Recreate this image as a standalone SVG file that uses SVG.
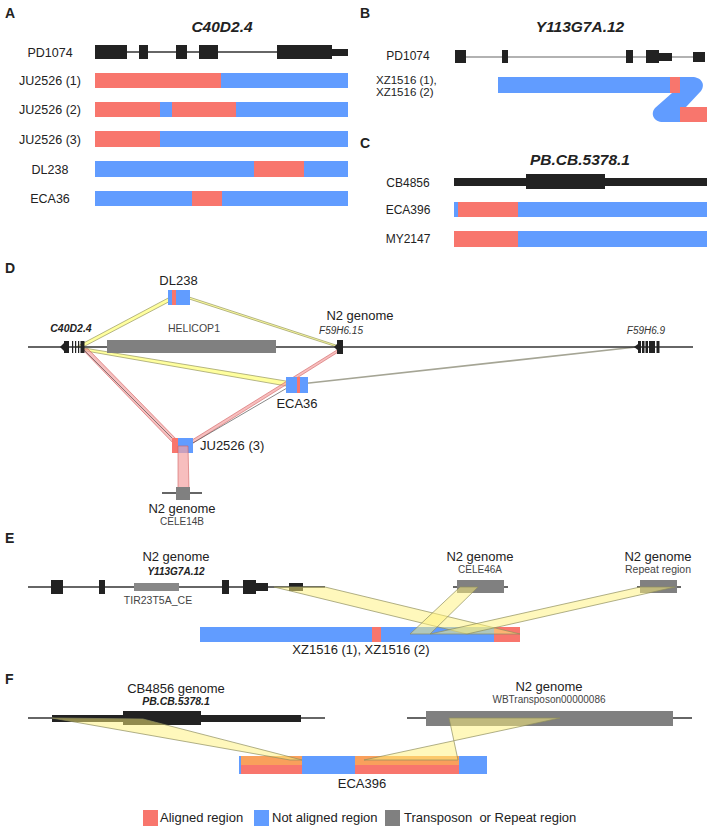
<svg xmlns="http://www.w3.org/2000/svg" width="709" height="829" viewBox="0 0 709 829">
<style>
text{font-family:"Liberation Sans",Arial,sans-serif;fill:#222}
.pl{font-size:14px;font-weight:bold}
.ti{font-size:15.5px;font-weight:bold;font-style:italic}
.rl{font-size:12.5px;text-anchor:middle}
.rb{font-size:12px}
.lb{font-size:13px;text-anchor:middle}
.sm{font-size:10.5px;text-anchor:middle;fill:#444}
.it{font-size:10px;font-style:italic;text-anchor:middle;fill:#333}
.bi{font-size:10.5px;font-weight:bold;font-style:italic;text-anchor:middle}
.lg{font-size:13px}
.red{fill:#F8766D}
.blue{fill:#619CFF}
.gray{fill:#808080}
.blk{fill:#222}
.ln{stroke:#333;stroke-width:1.3}
.yb{fill:#FFFF9E;stroke:#A3A36E;stroke-width:0.8}
.pb{fill:#F3A3A3;fill-opacity:0.7;stroke:#D06060;stroke-width:0.6}
.ye{fill:#FFF27A;fill-opacity:0.5;stroke:#8E8E5E;stroke-width:0.7}
.dk{stroke:#555;stroke-width:0.7}
.or{fill:#F9A05C}
</style>

<!-- Panel labels -->
<text class="pl" x="5" y="18">A</text>
<text class="pl" x="360" y="18">B</text>
<text class="pl" x="360" y="148">C</text>
<text class="pl" x="5" y="273">D</text>
<text class="pl" x="5" y="543">E</text>
<text class="pl" x="5" y="684">F</text>

<!-- Panel A -->
<g id="panelA">
<text class="ti" x="222" y="32" text-anchor="middle">C40D2.4</text>
<g id="A-PD1074">
<text class="rl" x="50" y="57">PD1074</text>
<line class="ln" x1="127" y1="52" x2="277" y2="52"/>
<rect class="blk" x="95" y="45" width="32" height="14"/>
<rect class="blk" x="139" y="45" width="9" height="14"/>
<rect class="blk" x="176" y="45" width="11" height="14"/>
<rect class="blk" x="199" y="45" width="19" height="14"/>
<rect class="blk" x="277" y="45" width="55" height="14"/>
<rect class="blk" x="332" y="49" width="16" height="7"/>
</g>
<g id="A-JU2526-1">
<text class="rl" x="50" y="85">JU2526 (1)</text>
<rect class="blue" x="95" y="73" width="253" height="15"/>
<rect class="red" x="95" y="73" width="126" height="15"/>
</g>
<g id="A-JU2526-2">
<text class="rl" x="50" y="114">JU2526 (2)</text>
<rect class="blue" x="95" y="102" width="253" height="15"/>
<rect class="red" x="95" y="102" width="65" height="15"/>
<rect class="red" x="172" y="102" width="64" height="15"/>
</g>
<g id="A-JU2526-3">
<text class="rl" x="50" y="143.5">JU2526 (3)</text>
<rect class="blue" x="95" y="131" width="253" height="16"/>
<rect class="red" x="95" y="131" width="65" height="16"/>
</g>
<g id="A-DL238">
<text class="rl" x="50" y="173.5">DL238</text>
<rect class="blue" x="95" y="161" width="253" height="16"/>
<rect class="red" x="254" y="161" width="50" height="16"/>
</g>
<g id="A-ECA36">
<text class="rl" x="50" y="203">ECA36</text>
<rect class="blue" x="95" y="191" width="253" height="15"/>
<rect class="red" x="192" y="191" width="30" height="15"/>
</g>
</g>

<!-- Panel B -->
<g id="panelB">
<text class="ti" x="580" y="32" text-anchor="middle">Y113G7A.12</text>
<g id="B-PD1074">
<text class="rb" x="408" y="60" text-anchor="middle">PD1074</text>
<line x1="455" y1="57" x2="705" y2="57" stroke="#999" stroke-width="1.5"/>
<rect class="blk" x="455" y="50" width="11" height="13"/>
<rect class="blk" x="502" y="50" width="6" height="13"/>
<rect class="blk" x="626" y="50" width="7" height="13"/>
<rect class="blk" x="646" y="50" width="13" height="13"/>
<rect class="blk" x="659" y="53" width="13" height="8"/>
<rect class="blk" x="693" y="52" width="12" height="10"/>
</g>
<g id="B-XZ1516">
<text class="rb" x="376" y="84" style="font-size:11.5px">XZ1516 (1),</text>
<text class="rb" x="376" y="96" style="font-size:11.5px">XZ1516 (2)</text>
<rect class="blue" x="498" y="77" width="182" height="16"/>
<path class="blue" d="M679,77 H692 C701,77 706,84 701,91 L686,107 H680 V122 H663 C654,122 650,114 655,108 L672,93 H679 Z"/>
<rect class="red" x="670" y="77" width="10" height="16"/>
<rect class="red" x="680" y="107" width="27" height="15"/>
</g>
</g>

<!-- Panel C -->
<g id="panelC">
<text class="ti" x="580" y="165" text-anchor="middle">PB.CB.5378.1</text>
<g id="C-CB4856">
<text class="rb" x="408" y="187" text-anchor="middle">CB4856</text>
<rect class="blk" x="454" y="178" width="253" height="8"/>
<rect class="blk" x="526" y="174" width="79" height="15"/>
</g>
<g id="C-ECA396">
<text class="rb" x="408" y="214" text-anchor="middle">ECA396</text>
<rect class="blue" x="454" y="202" width="253" height="15"/>
<rect class="red" x="458" y="202" width="60" height="15"/>
</g>
<g id="C-MY2147">
<text class="rb" x="408" y="243" text-anchor="middle">MY2147</text>
<rect class="blue" x="454" y="231" width="253" height="16"/>
<rect class="red" x="454" y="231" width="64" height="16"/>
</g>
</g>

<!-- Panel D -->
<g id="panelD">
<g id="D-connectors">
<polygon class="yb" points="76,347 83,347 178,297 172,296"/>
<polygon class="yb" points="180,296 186,296 342,347 337,347"/>
<polygon class="yb" points="84,348 86,351 292,387 292,382"/>
<line x1="300" y1="384" x2="636" y2="347" stroke="#A5A595" stroke-width="1.6"/>
<polygon class="pb" points="82,349 88,349 182,445 175,445"/>
<line class="dk" x1="84" y1="350" x2="180" y2="446"/>
<polygon class="pb" points="337,350 343,349 190,445 184,445"/>
<line class="dk" x1="287" y1="388" x2="186" y2="447"/>
</g>
<g id="D-N2-genome">
<text class="lb" x="360" y="320">N2 genome</text>
<line class="ln" x1="28" y1="347" x2="693" y2="347"/>
<text class="bi" x="71" y="332">C40D2.4</text>
<polygon class="blk" points="60,347 64,343 64,351"/>
<rect class="blk" x="64" y="341" width="5" height="12"/>
<rect class="blk" x="72" y="341" width="1.2" height="12"/>
<rect class="blk" x="75" y="341" width="1.2" height="12"/>
<rect class="blk" x="78" y="341" width="1.2" height="12"/>
<rect class="blk" x="80.5" y="341" width="4" height="12"/>
<text class="sm" x="194" y="332">HELICOP1</text>
<rect class="gray" x="107" y="340" width="169" height="13"/>
<text class="it" x="341" y="334">F59H6.15</text>
<polygon class="blk" points="334,347 337,344 337,350"/>
<rect class="blk" x="337" y="340" width="6" height="14"/>
<text class="it" x="646" y="334">F59H6.9</text>
<polygon class="blk" points="634,347 638,344 638,350"/>
<rect class="blk" x="638" y="341" width="3" height="12"/>
<rect class="blk" x="642" y="341" width="2.5" height="12"/>
<rect class="blk" x="645.5" y="341" width="2.5" height="12"/>
<rect class="blk" x="649" y="341" width="6" height="12"/>
<rect class="blk" x="656.5" y="341" width="3" height="12"/>
</g>
<g id="D-DL238">
<text class="lb" x="178.5" y="285">DL238</text>
<rect class="blue" x="168" y="290" width="22" height="15"/>
<rect class="red" x="172" y="290" width="4" height="15"/>
</g>
<g id="D-ECA36">
<rect class="blue" x="286" y="377" width="22" height="16"/>
<rect class="red" x="297" y="377" width="3" height="16"/>
<text class="lb" x="297" y="408">ECA36</text>
</g>
<g id="D-JU2526-3">
<rect class="blue" x="172" y="438" width="21" height="15"/>
<rect class="red" x="172" y="438" width="6" height="15"/>
<text class="lb" x="200" y="450" style="text-anchor:start">JU2526 (3)</text>
</g>
<polygon class="pb" points="178,446 188,446 189,489 178,489"/>
<g id="D-CELE14B">
<line class="ln" x1="162" y1="493" x2="202" y2="493"/>
<rect class="gray" x="176" y="487" width="14" height="13"/>
<text class="lb" x="182" y="513">N2 genome</text>
<text class="sm" x="182" y="525" style="font-size:10px">CELE14B</text>
</g>
</g>

<!-- Panel E -->
<g id="panelE">
<g id="E-Y113G7A12">
<text class="lb" x="176" y="561">N2 genome</text>
<text class="bi" x="176" y="575" style="font-size:10px">Y113G7A.12</text>
<line class="ln" x1="28" y1="587" x2="325" y2="587"/>
<rect class="blk" x="51" y="580" width="12" height="14"/>
<rect class="blk" x="99" y="580" width="6" height="14"/>
<rect x="134" y="583" width="45" height="8" fill="#888"/>
<rect class="blk" x="222" y="580" width="7" height="14"/>
<rect class="blk" x="243" y="580" width="13" height="14"/>
<rect class="blk" x="256" y="583" width="12" height="8"/>
<rect class="blk" x="289" y="583" width="14" height="8"/>
<text class="sm" x="158" y="604">TIR23T5A_CE</text>
</g>
<g id="E-CELE46A">
<text class="lb" x="480" y="561">N2 genome</text>
<text class="sm" x="480" y="573" style="font-size:10px">CELE46A</text>
<line class="ln" x1="453" y1="587" x2="508" y2="587"/>
<rect class="gray" x="457" y="580" width="47" height="13"/>
</g>
<g id="E-Repeat">
<text class="lb" x="658" y="561">N2 genome</text>
<text class="sm" x="658" y="573">Repeat region</text>
<line class="ln" x1="637" y1="587" x2="681" y2="587"/>
<rect class="gray" x="640" y="580" width="37" height="13"/>
</g>
<g id="E-XZ1516">
<rect class="blue" x="200" y="627" width="320" height="15"/>
<rect class="red" x="372" y="627" width="9" height="15"/>
<rect class="red" x="494" y="627" width="26" height="15"/>
<text class="lb" x="361" y="654">XZ1516 (1), XZ1516 (2)</text>
</g>
<g id="E-connectors">
<polygon class="ye" points="274,587 325,587 520,634 467,634"/>
<polygon class="ye" points="460,587 478,587 430,634 410,634"/>
<polygon class="ye" points="640,587 675,587 467,634 430,634"/>
</g>
</g>

<!-- Panel F -->
<g id="panelF">
<g id="F-CB4856">
<text class="lb" x="176" y="693">CB4856 genome</text>
<text class="bi" x="176" y="705">PB.CB.5378.1</text>
<line class="ln" x1="28" y1="718" x2="325" y2="718"/>
<rect class="blk" x="52" y="715" width="249" height="7"/>
<rect class="blk" x="123" y="711" width="78" height="14"/>
</g>
<g id="F-WBTransposon">
<text class="lb" x="549" y="691">N2 genome</text>
<text class="sm" x="549" y="703" style="font-size:10px">WBTransposon00000086</text>
<line class="ln" x1="407" y1="718" x2="692" y2="718"/>
<rect class="gray" x="426" y="711" width="247" height="15"/>
</g>
<g id="F-ECA396">
<rect class="blue" x="239" y="756" width="248" height="18"/>
<rect class="red" x="241" y="756" width="61" height="18"/>
<rect class="red" x="355" y="756" width="104" height="18"/>
<rect class="or" x="241" y="756" width="61" height="9"/>
<rect class="or" x="355" y="756" width="104" height="9"/>
<text class="lb" x="362" y="788">ECA396</text>
</g>
<g id="F-connectors">
<polygon class="ye" points="52,718 143,719 302,760 290,760"/>
<polygon class="ye" points="449,718 560,718 364,760 458,760"/>
</g>
</g>

<!-- Legend -->
<g id="legend">
<rect class="red" x="143" y="810" width="15" height="16"/>
<text class="lg" x="160" y="822">Aligned region</text>
<rect class="blue" x="254" y="810" width="15" height="16"/>
<text class="lg" x="272" y="822">Not aligned region</text>
<rect class="gray" x="385" y="810" width="15" height="16"/>
<text class="lg" x="404" y="822" xml:space="preserve">Transposon  or Repeat region</text>
</g>
</svg>
